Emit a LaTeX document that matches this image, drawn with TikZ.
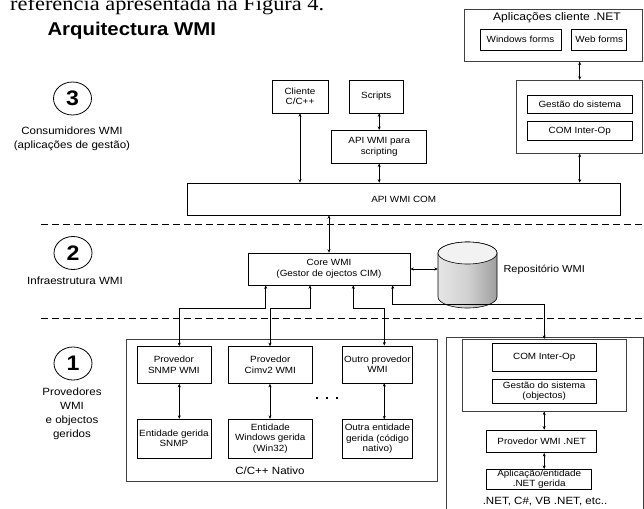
\documentclass[tikz,border=0pt]{standalone}
\usepackage{fontspec}
\setmainfont{Liberation Sans}[FakeStretch=1.1]
\newfontfamily\serifbody{Liberation Serif}[FakeStretch=1.12]
\usetikzlibrary{arrows.meta, shapes.geometric}

\begin{document}
\begin{tikzpicture}[x=1pt, y=-1pt,
    box/.style 2 args={draw, line width=0.6pt, minimum width=#1, minimum height=#2, inner sep=0.5pt, align=center, font=\fontsize{9}{10.5}\selectfont},
    group/.style 2 args={draw=black!75, line width=0.8pt, minimum width=#1, minimum height=#2, inner sep=0pt},
    num/.style={draw, ellipse, line width=0.8pt, minimum width=38, minimum height=33, inner sep=0pt, font=\bfseries\fontsize{21}{21}\selectfont},
    side/.style={font=\fontsize{10.5}{14}\selectfont, align=center},
    arrow/.style={{Stealth[length=3.5pt,width=3pt]}-{Stealth[length=3.5pt,width=3pt]}, line width=0.5pt},
    sep/.style={dash pattern=on 7pt off 4pt, line width=0.7pt}
]
\useasboundingbox (0,0) rectangle (644,508);

% --- page text and title ---
\node[anchor=base west, font=\serifbody\fontsize{20}{22}\selectfont, inner sep=0pt] (pagetxt) at (10,11) {referência apresentada na Figura 4.};
\node[anchor=west, font=\bfseries\fontsize{18.5}{20}\selectfont] (title) at (44,31) {Arquitectura WMI};

% --- layer labels ---
\node[num] (n3) at (72.5,98.5) {3};
\node[side] (cons) at (72,138.5) {Consumidores WMI\\(aplicações de gestão)};
\node[num] (n2) at (73,253) {2};
\node[side] (infra) at (75,281) {Infraestrutura WMI};
\node[num] (n1) at (73,363.5) {1};
\node[side] (prov) at (72,414) {Provedores\\WMI\\e objectos\\geridos};

\draw[sep] (41,224.5) -- (644,224.5);
\draw[sep] (41,318) -- (644,318);

% --- consumers ---
\node[box={56}{33}] (cli) at (300,96.5) {Cliente\\C/C++};
\node[box={54}{33}] (scr) at (376.3,96.5) {Scripts};
\node[box={95}{33}] (apiscr) at (379.2,146.7) {API WMI para\\scripting};
\node[box={433}{32}] (apicom) at (403.7,199) {API WMI COM};

\node[group={178}{52}] (netcli) at (553.7,35.2) {};
\node[font=\fontsize{11}{12}\selectfont] (netclit) at (557,17.5) {Aplicações cliente .NET};
\node[box={81}{21}] (winf) at (520.5,39.7) {Windows forms};
\node[box={55}{21}] (webf) at (599.2,39.7) {Web forms};
\node[group={126}{73}] (gestgrp) at (579.7,116.7) {};
\node[box={105}{18.3}] (gest) at (579.8,104.2) {Gestão do sistema};
\node[box={105}{18.3}] (comio) at (579.8,130.8) {COM Inter-Op};

\draw[arrow] (cli.south) -- (cli.south |- apicom.north);
\draw[arrow] (scr.south -| apiscr) -- (apiscr.north);
\draw[arrow] (apiscr.south) -- (apiscr.south |- apicom.north);
\draw[arrow] (netcli.south -| gestgrp) -- (gestgrp.north);
\draw[arrow] (gestgrp.south) -- (gestgrp.south |- apicom.north);

% --- infrastructure ---
\node[box={162}{32}] (core) at (329,269) {Core WMI\\(Gestor de ojectos CIM)};
\node[minimum width=59, minimum height=66, inner sep=0pt] (repo) at (467.5,275) {};
% repository drum
\draw[line width=0.6pt, left color=black!10, right color=black!38, middle color=black!18]
  (438,253) -- (438,297) arc[start angle=180, end angle=360, x radius=29.5pt, y radius=11pt]
  -- (497,253) arc[start angle=0, end angle=180, x radius=29.5pt, y radius=11pt] -- cycle;
\draw[line width=0.6pt, fill=black!5] (467.5,253) ellipse[x radius=29.5pt, y radius=11pt];
\node[anchor=west, font=\fontsize{10}{12}\selectfont] (repot) at (500,270) {Repositório WMI};

\draw[arrow] (apicom.south -| core) -- (core.north);
\draw[arrow] (core.east) -- (core.east -| repo.west);

% --- native providers ---
\node[group={311}{142}] (native) at (281.5,410) {};
\node[side] (nativet) at (270,471) {C/C++ Nativo};
\node[box={74}{37}] (snmp) at (173.9,365) {Provedor\\SNMP WMI};
\node[box={84}{37}] (cimv2) at (270.3,365) {Provedor\\Cimv2 WMI};
\node[box={70}{37}] (other) at (377.5,364.3) {Outro provedor\\WMI};
\node[box={74}{38.7}] (esnmp) at (173.9,438.5) {Entidade gerida\\SNMP};
\node[box={84}{38.7}] (ewin) at (270.3,438.5) {Entidade\\Windows gerida\\(Win32)};
\node[box={70}{38.7}] (eother) at (377.5,439) {Outra entidade\\gerida (código\\nativo)};
\foreach \dx in {317,327,337}
  \fill (\dx-1.4,396.6) rectangle +(2.8,2.8);

% --- managed (.NET) providers ---
\node[group={197}{185}] (dotnet) at (544.5,430.2) {};
\node[group={163.7}{71.7}] (comgrp) at (544.2,375.2) {};
\node[box={103.7}{28.4}] (comnet) at (544.2,357.5) {COM Inter-Op};
\node[box={103.7}{24.3}] (gestnet) at (544.2,391.2) {Gestão do sistema\\(objectos)};
\node[box={110}{22.7}] (provnet) at (541.7,441.3) {Provedor WMI .NET};
\node[box={105}{20}] (appnet) at (539.2,479.3) {Aplicação/entidade\\.NET gerida};
\node[side, inner sep=1pt] (netlang) at (545,501) {.NET, C\#, VB .NET, etc..};

% --- links from the core down to the providers ---
\coordinate (t1) at (265.7,308.3);
\coordinate (t2) at (310,308.3);
\coordinate (t3) at (353.3,308.3);
\coordinate (t4) at (392.7,304);
\coordinate (c1) at (179.3,308.3);
\coordinate (c2) at (270,308.3);
\coordinate (c3) at (384.3,308.3);
\coordinate (c4) at (544.2,304);

\draw[arrow] (core.south -| t1) -- (t1) -- (c1) -- (snmp.north -| c1);
\draw[arrow] (core.south -| t2) -- (t2) -- (c2) -- (cimv2.north -| c2);
\draw[arrow] (core.south -| t3) -- (t3) -- (c3) -- (other.north -| c3);
\draw[arrow] (core.south -| t4) -- (t4) -- (c4) -- (comgrp.north -| c4);

\draw[arrow] (snmp.south -| c1) -- (esnmp.north -| c1);
\draw[arrow] (cimv2.south -| c2) -- (ewin.north -| c2);
\draw[arrow] (other.south -| c3) -- (eother.north -| c3);
\draw[arrow] (comgrp.south -| c4) -- (provnet.north -| c4);
\draw[arrow] (provnet.south -| c4) -- (appnet.north -| c4);

\end{tikzpicture}
\end{document}
